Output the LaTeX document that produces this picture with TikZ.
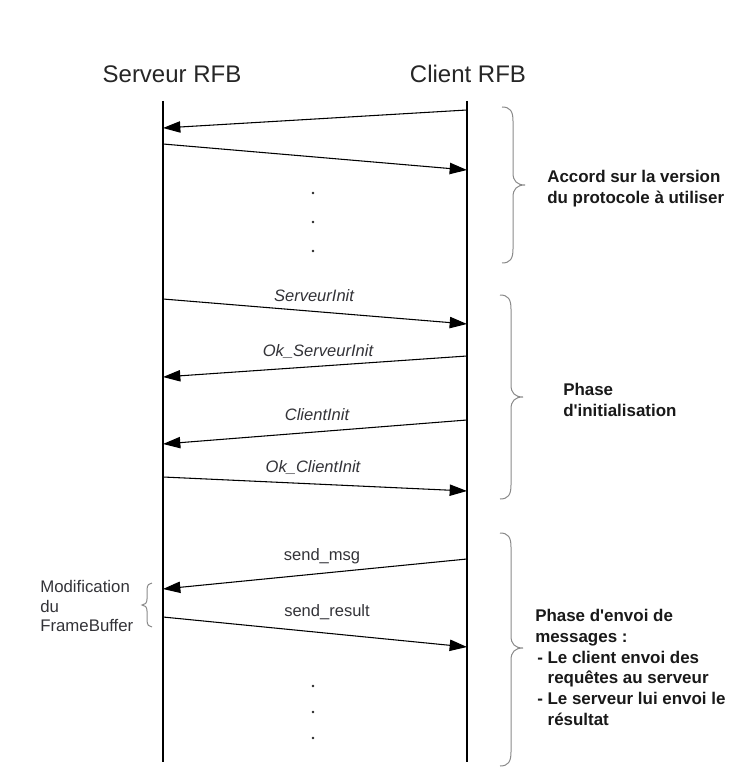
\documentclass[tikz,border=0pt]{standalone}
\usepackage{fontspec}
\setmainfont{Liberation Sans}
\usetikzlibrary{arrows.meta}
\definecolor{labelc}{HTML}{333338}
\definecolor{bracec}{HTML}{8A8A8A}
\newcommand\mybraceR[4]{%
  \draw[brc] (#1,#2) .. controls (#1+8,#2) and (#1+11,#2+4) .. (#1+11,#2+14)
    -- (#1+11,#3-12) .. controls (#1+11,#3-4) and (#1+15,#3) .. (#1+23,#3)
    .. controls (#1+15,#3) and (#1+11,#3+4) .. (#1+11,#3+12)
    -- (#1+11,#4-14) .. controls (#1+11,#4-4) and (#1+8,#4) .. (#1,#4);}
\newcommand\mybraceL[4]{%
  \draw[brc] (#1,#2) .. controls (#1-3,#2) and (#1-5,#2+2) .. (#1-5,#2+7)
    -- (#1-5,#3-6) .. controls (#1-5,#3-2) and (#1-7,#3) .. (#1-10,#3)
    .. controls (#1-7,#3) and (#1-5,#3+2) .. (#1-5,#3+6)
    -- (#1-5,#4-7) .. controls (#1-5,#4-2) and (#1-3,#4) .. (#1,#4);}
\newcommand\apos{\textquotesingle}
\begin{document}
\begin{tikzpicture}[x=0.75pt,y=-0.75pt,
  life/.style={line width=0.8pt},
  msg/.style={line width=0.8pt,-{Triangle[length=13pt,width=8.5pt]}},
  lbl/.style={font=\fontsize{12.4}{14}\selectfont\itshape, text=labelc, inner sep=0pt},
  lblu/.style={font=\fontsize{12.4}{14}\selectfont, text=labelc, inner sep=0pt},
  head/.style={font=\fontsize{18}{21}\selectfont, text=black!85, inner sep=0pt},
  phase/.style={font=\fontsize{12.7}{15.6}\selectfont\bfseries, text=black!90, inner sep=0pt, align=left, anchor=west},
  note/.style={font=\fontsize{12.6}{14.3}\selectfont, text=labelc, inner sep=0pt, align=left, anchor=west},
  brc/.style={draw=bracec, line width=0.75pt},
  dot/.style={circle, fill=black!85, inner sep=0pt, minimum size=2pt},
]
\useasboundingbox (0,0) rectangle (743,784);

% headers
\node[head] (hs) at (172,74) {Serveur RFB};
\node[head] (hc) at (468,74) {Client RFB};

% lifelines
\coordinate (stop) at (163,101);
\coordinate (sbot) at (163,762);
\coordinate (ctop) at (467,101);
\coordinate (cbot) at (467,762);
\draw[life] (stop) -- (sbot);
\draw[life] (ctop) -- (cbot);

% message end points
\coordinate (c1) at (467,110); \coordinate (s1) at (163,128);
\coordinate (s2) at (163,144); \coordinate (c2) at (467,170);
\coordinate (s3) at (163,299); \coordinate (c3) at (467,324);
\coordinate (c4) at (467,356); \coordinate (s4) at (163,377);
\coordinate (c5) at (467,420); \coordinate (s5) at (163,444);
\coordinate (s6) at (163,477); \coordinate (c6) at (467,491);
\coordinate (c7) at (467,559); \coordinate (s7) at (163,589);
\coordinate (s8) at (163,617); \coordinate (c8) at (467,647);

\draw[msg] (c1) -- (s1);
\draw[msg] (s2) -- (c2);
\draw[msg] (s3) -- (c3);
\draw[msg] (c4) -- (s4);
\draw[msg] (c5) -- (s5);
\draw[msg] (s6) -- (c6);
\draw[msg] (c7) -- (s7);
\draw[msg] (s8) -- (c8);

% labels
\node[lbl] (l3) at (314,296) {ServeurInit};
\node[lbl] (l4) at (318,352) {Ok\_ServeurInit};
\node[lbl] (l5) at (317,415) {ClientInit};
\node[lbl] (l6) at (313,468) {Ok\_ClientInit};
\node[lblu] (l7) at (322,556) {send\_msg};
\node[lblu] (l8) at (327,612) {send\_result};

% dots
\node[dot] (d1) at (313,193) {};
\node[dot] (d2) at (313,222) {};
\node[dot] (d3) at (313,251) {};
\node[dot] (d4) at (313,686) {};
\node[dot] (d5) at (313,712) {};
\node[dot] (d6) at (313,738) {};

% braces
\mybraceR{502}{107}{185}{263}
\mybraceR{500}{295}{397}{499}
\mybraceR{500}{533}{648}{766}
\mybraceL{152}{583}{605}{627}

% brace texts
\node[phase] (p1) at (547,189) {Accord sur la version\\du protocole à utiliser};
\node[phase] (p2) at (563,400) {Phase\\d\apos initialisation};
\node[phase] (p3) at (535,667.5) {Phase d\apos envoi de\\messages :\\\hspace*{1.5pt}- Le client envoi des\\\hspace*{9.3pt}requêtes au serveur\\\hspace*{1.5pt}- Le serveur lui envoi le\\\hspace*{9.3pt}résultat};
\node[note] (m1) at (40,606) {Modification\\du\\FrameBuffer};
\end{tikzpicture}
\end{document}
